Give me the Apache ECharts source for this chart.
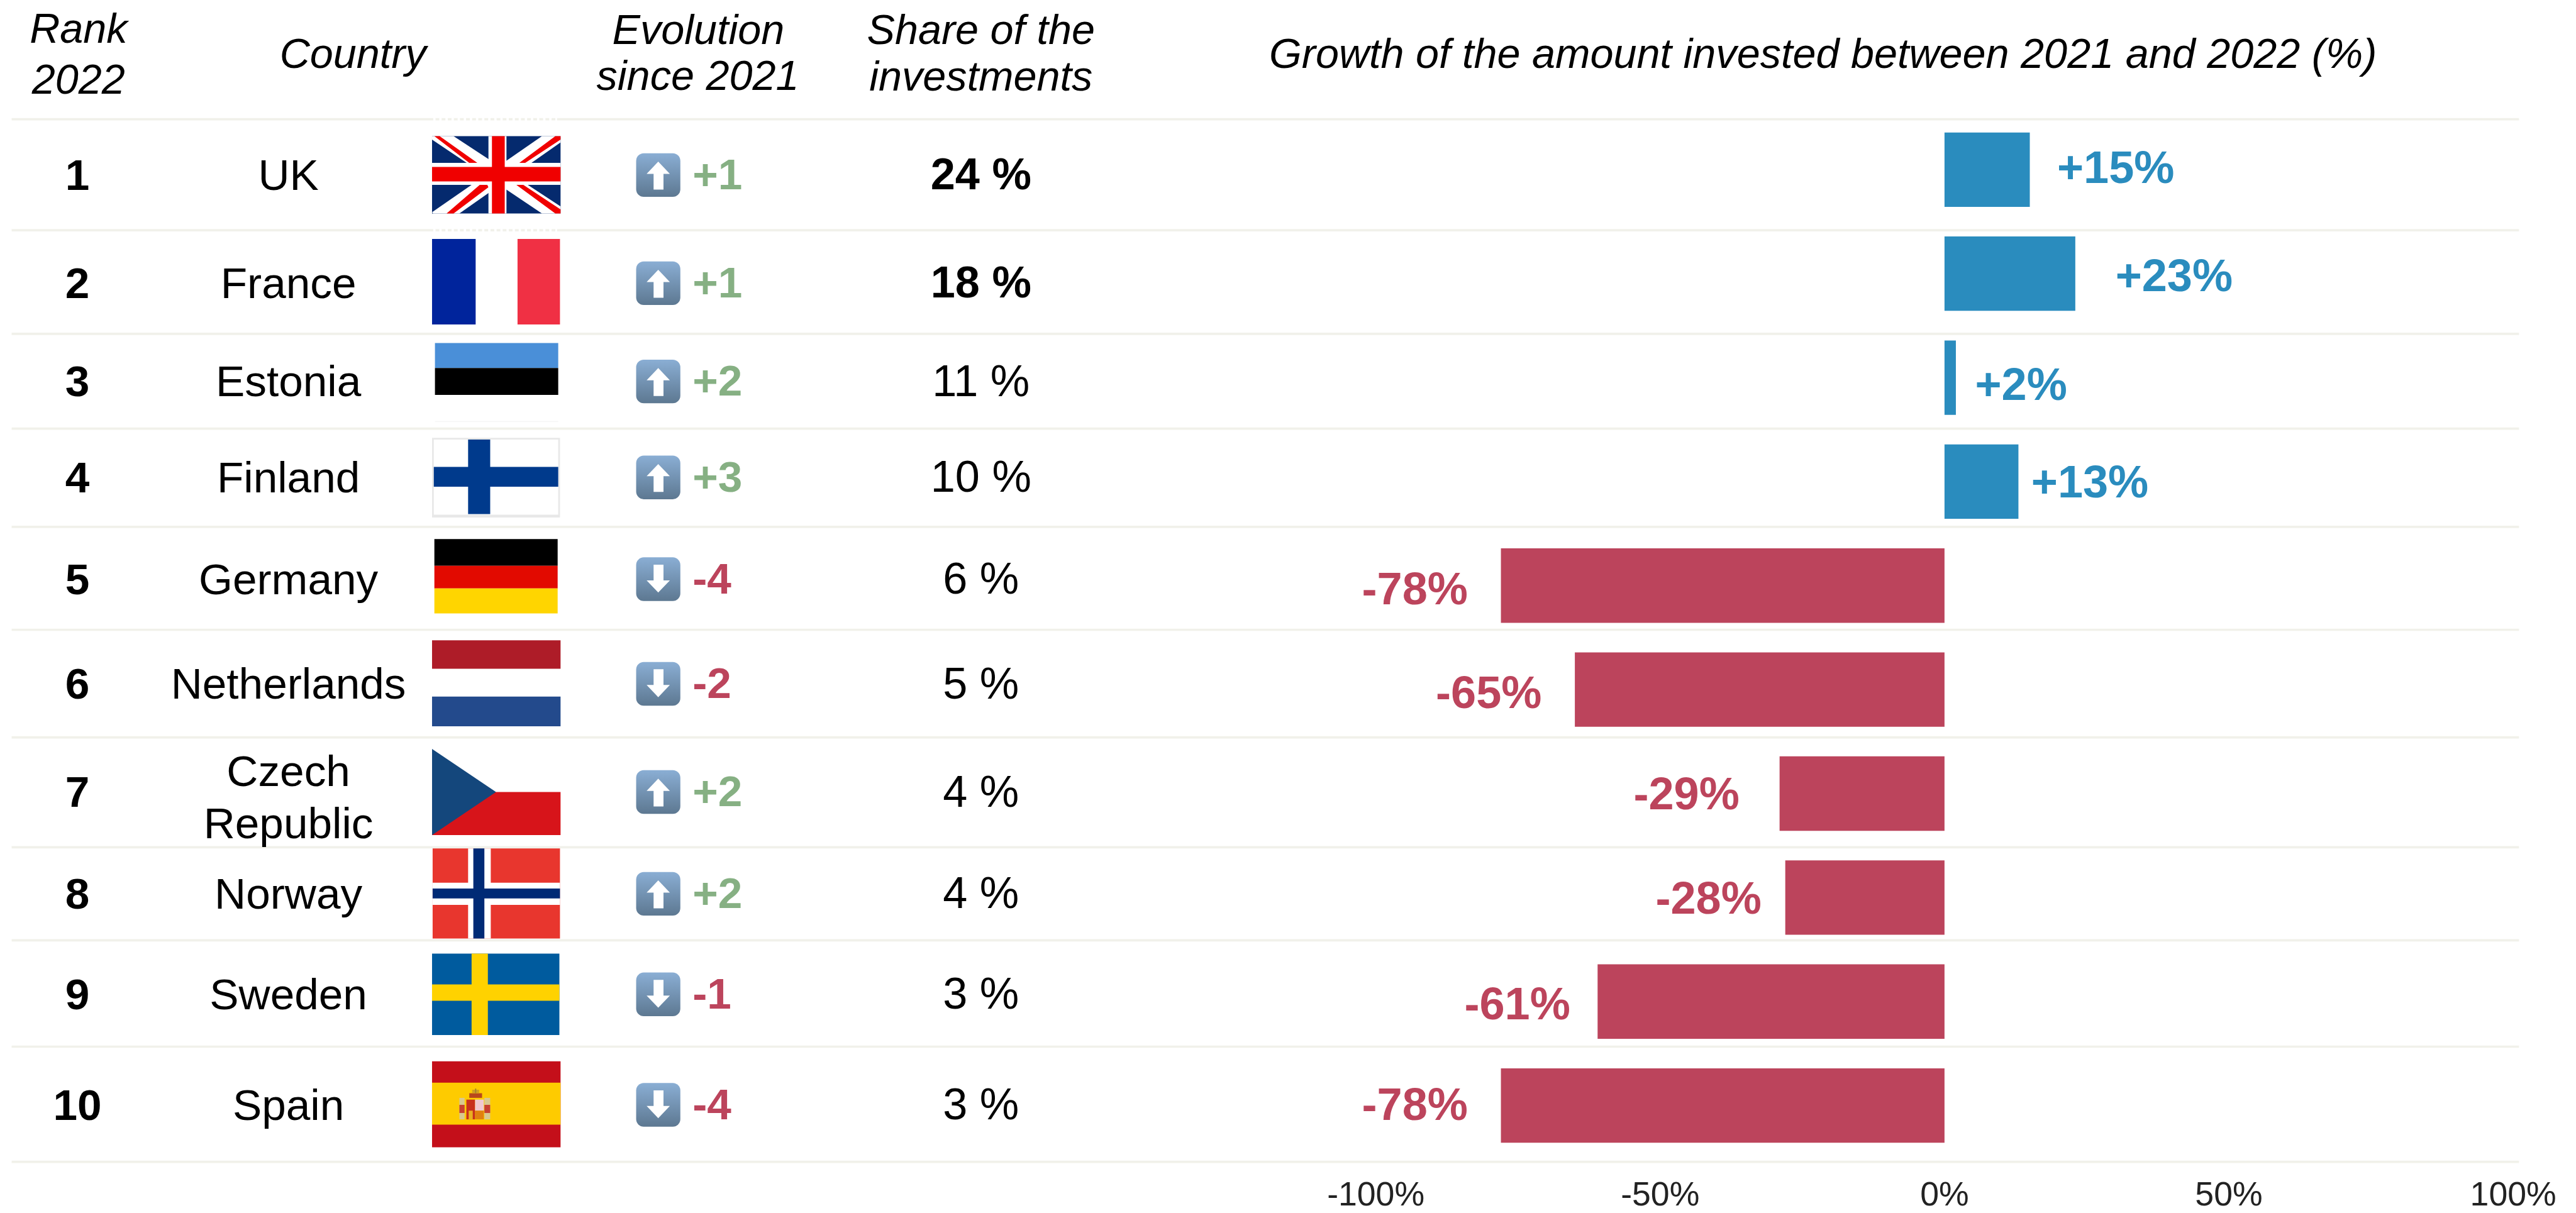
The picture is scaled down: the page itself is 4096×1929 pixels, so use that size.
<!DOCTYPE html>
<html><head><meta charset="utf-8">
<style>html,body{margin:0;padding:0;background:#fff}#c{width:4096px;height:1929px}</style>
<script src="https://cdn.jsdelivr.net/npm/echarts@6/dist/echarts.min.js"></script>
</head><body><div id="c"></div>
<script>
// ---- data ----
const ranks = [1,2,3,4,5,6,7,8,9,10];
const countries = ['UK','France','Estonia','Finland','Germany','Netherlands','Czech\nRepublic','Norway','Sweden','Spain'];
const evolution = [1,1,2,3,-4,-2,2,2,-1,-4];
const shares = [24,18,11,10,6,5,4,4,3,3];
const growth = [15,23,2,13,-78,-65,-29,-28,-61,-78];
const xTicks = [-100,-50,0,50,100];
const headers = ['Rank','2022','Country','Evolution','since 2021','Share of the','investments','Growth of the amount invested between 2021 and 2022 (%)'];

// ---- layout, in reference pixels ----
const S = 4096/4430;
const FONT = '"Liberation Sans", Arial, sans-serif';
const ruleYs = [205,396,574,737,906,1083,1268,1457,1617,1800,1998];
const rowYs = [301,487,656,821,996,1176,1362,1537,1710,1900];
const labelGap = [47,69,33,22,57,57,69,41,47,57];
const labelDy = [1,9,17,6,11,10,6,6,9,3];
const headerPos = [[135,53],[135,141],[607,97],[1201,56],[1200,135],[1687,56],[1687,136],[3135,97]];
const BLUE='#2a8cbe', RED='#bc445c', GREEN='#86b083';

const R=(x0,y0,x1,y1,c)=>['r',x0,y0,x1,y1,c];
const G=(pts,c)=>['p',pts,c];
const flags = [
 [R(743,234,964,367,'#052a6e'),
  G([[743,234],[780,234],[964,355],[964,367],[932,367],[743,240]],'#fff'),
  G([[932,234],[964,234],[964,245],[790,367],[745,367],[743,365]],'#fff'),
  G([[747,234],[756,234],[822,281],[808,281]],'#f00000'),
  G([[768,367],[780,367],[840,322],[838,318],[825,318]],'#f00000'),
  G([[955,234],[964,234],[964,240],[902,281],[892,281]],'#f00000'),
  G([[888,318],[900,318],[964,360],[964,367],[955,367]],'#f00000'),
  R(743,280,964,318,'#fff'),R(840,234,871,367,'#fff'),
  R(743,287,964,312,'#f00000'),R(846,234,868,367,'#f00000')],
 [R(743,411,818,558,'#00249c'),R(890,411,963,558,'#f03044')],
 [R(748,590,960,633,'#4a8fd8'),R(748,633,960,679,'#000'),R(748,724,960,726,'#f6f6f6')],
 [R(743,753,963,890,'#e8e8e8'),R(746,756,960,885,'#fff'),R(805,756,843,884,'#003a8c'),R(746,803,960,837,'#003a8c')],
 [R(747,927,959,973,'#000'),R(747,973,959,1012,'#e20a00'),R(747,1012,959,1055,'#ffd500')],
 [R(743,1101,964,1150,'#ae1c28'),R(743,1198,964,1249,'#234a8c')],
 [R(743,1362,964,1436,'#d7141a'),G([[743,1288],[853,1362],[743,1436]],'#14477c')],
 [R(744,1459,963,1614,'#e8362e'),R(805,1459,844,1614,'#fff'),R(744,1518,963,1556,'#fff'),
  R(814,1459,833,1614,'#002a75'),R(744,1528,963,1545,'#002a75')],
 [R(743,1640,962,1780,'#005b9e'),R(811,1640,839,1780,'#ffd200'),R(743,1693,962,1721,'#ffd200')],
 [R(743,1825,964,1973,'#c40f1a'),R(743,1862,964,1934,'#fecb00'),
  R(790,1888,799,1925,'#d8c890'),R(833,1888,843,1925,'#d8c890'),
  R(790,1900,799,1914,'#c84030'),R(833,1900,843,1914,'#c84030'),
  R(807,1880,829,1888,'#b8481c'),R(812,1874,824,1880,'#d0a020'),R(817,1872,819,1880,'#a08030'),
  R(802,1891,817,1925,'#c8301c'),R(817,1891,832,1910,'#f0c8d0'),R(817,1910,832,1925,'#e08010'),
  R(806,1910,813,1925,'#e8b020')]
];
const upArrow = [[0,-23],[20,-2],[9,-2],[9,25],[-8,25],[-8,-2],[-20,-2]];

const chart = echarts.init(document.getElementById('c'), null, {renderer:'canvas'});

function txt(api,x,y,text,size,o){
  const p=api.coord([x,y]);
  return {type:'text',silent:true,style:Object.assign({x:p[0],y:p[1],text:text,fill:'#000',
    font:(o&&o.f||'')+' '+(size*S)+'px '+FONT,align:'center',verticalAlign:'middle'},o&&o.s)};
}
function renderRule(params,api){
  const y=api.value(1), a=api.coord([20,y]), b=api.coord([4332,y]);
  const kids=[{type:'line',shape:{x1:a[0],y1:a[1],x2:b[0],y2:b[1]},style:{stroke:'#f1f1ea',lineWidth:4*S}}];
  if(params.dataIndex<2){
    const c=api.coord([745,y]), d=api.coord([958,y]);
    kids.push({type:'line',shape:{x1:c[0],y1:c[1],x2:d[0],y2:d[1]},style:{stroke:'#fff',lineWidth:5*S,lineDash:[4*S,6.5*S]}});
  }
  return {type:'group',children:kids};
}
function renderRow(params,api){
  const i=params.dataIndex, y=api.value(1), kids=[];
  kids.push(txt(api,133,y+5,String(ranks[i]),75,{f:'bold'}));
  kids.push(txt(api,496,y+(i===6?14:5),countries[i],75,{s:{lineHeight:90*S}}));
  flags[i].forEach(s=>{
    if(s[0]==='r'){
      const a=api.coord([s[1],s[2]]), b=api.coord([s[3],s[4]]);
      kids.push({type:'rect',shape:{x:a[0],y:a[1],width:b[0]-a[0],height:b[1]-a[1]},style:{fill:s[5]}});
    }else{
      kids.push({type:'polygon',shape:{points:s[1].map(q=>api.coord(q))},style:{fill:s[2]}});
    }
  });
  const up=evolution[i]>0;
  const t=api.coord([1094,y-37.5]), br=api.coord([1170,y+37.5]);
  kids.push({type:'rect',shape:{x:t[0],y:t[1],width:br[0]-t[0],height:br[1]-t[1],r:13*S},
    style:{fill:new echarts.graphic.LinearGradient(0,0,0,1,[{offset:0,color:'#8aaed4'},{offset:1,color:'#5d7891'}])}});
  kids.push({type:'polygon',shape:{points:upArrow.map(q=>api.coord([1132+q[0],y+(up?q[1]:-q[1])]))},style:{fill:'#fff'}});
  kids.push(txt(api,1191,y+4,(up?'+':'')+evolution[i],75,{f:'bold',s:{align:'left',fill:up?GREEN:RED}}));
  kids.push(txt(api,1687,y+4,shares[i]+' %',76,{f:i<2?'bold':''}));
  return {type:'group',children:kids};
}
function renderHeader(params,api){
  const i=params.dataIndex;
  return txt(api,api.value(0),api.value(1),headers[i],72,{f:'italic'});
}

chart.setOption({
  animation:false,
  backgroundColor:'#fff',
  grid:[
    {left:2366*S,width:1956*S,top:202.4*S,height:1792*S},
    {left:0,right:0,top:0,bottom:0}
  ],
  xAxis:[
    {type:'value',gridIndex:0,min:-100,max:100,interval:50,
     axisLine:{show:false},axisTick:{show:false},splitLine:{show:false},
     axisLabel:{formatter:v=>xTicks.includes(v)?v+'%':'',fontFamily:FONT,fontSize:58*S,color:'#222',margin:37*S,showMinLabel:true,showMaxLabel:true,hideOverlap:false}},
    {type:'value',gridIndex:1,min:0,max:4430,show:false}
  ],
  yAxis:[
    {type:'category',gridIndex:0,inverse:true,data:countries,show:false},
    {type:'value',gridIndex:1,min:0,max:2086,inverse:true,show:false}
  ],
  series:[
    {type:'custom',name:'rules',xAxisIndex:1,yAxisIndex:1,silent:true,clip:false,z:1,
     data:ruleYs.map(y=>[0,y]),encode:{x:0,y:1},renderItem:renderRule},
    {type:'bar',name:'Growth',xAxisIndex:0,yAxisIndex:0,barWidth:128*S,z:2,silent:true,
     data:growth.map((v,i)=>({value:v,itemStyle:{color:v>=0?BLUE:RED},
       label:{show:true,position:v>=0?'right':'left',distance:labelGap[i]*S,offset:[0,labelDy[i]*S],
         formatter:(v>0?'+':'')+v+'%',fontFamily:FONT,fontWeight:'bold',fontSize:78*S,color:v>=0?BLUE:RED}}))},
    {type:'custom',name:'table',xAxisIndex:1,yAxisIndex:1,silent:true,clip:false,z:3,
     data:rowYs.map(y=>[0,y]),encode:{x:0,y:1},renderItem:renderRow},
    {type:'custom',name:'headers',xAxisIndex:1,yAxisIndex:1,silent:true,clip:false,z:3,
     data:headerPos,encode:{x:0,y:1},renderItem:renderHeader}
  ]
});
</script></body></html>
